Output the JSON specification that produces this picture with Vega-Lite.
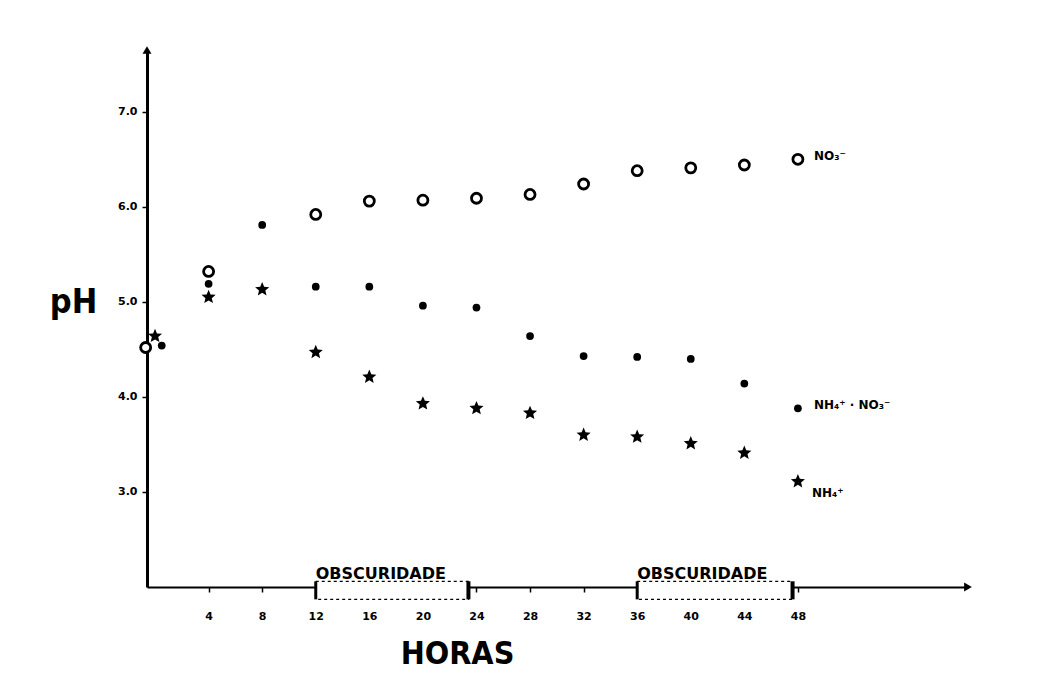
{
  "$schema": "https://vega.github.io/schema/vega-lite/v6.json",
  "width": 821,
  "height": 537,
  "autosize": {"type": "none"},
  "padding": {"left": 147, "top": 50, "right": 96, "bottom": 101},
  "background": "white",
  "config": {"view": {"stroke": null}, "font": "DejaVu Sans"},
  "datasets": {
    "ph": [
      {"hour": -0.7, "pH": 4.52, "series": "NO3"},
      {"hour": 4, "pH": 5.32, "series": "NO3"},
      {"hour": 12, "pH": 5.92, "series": "NO3"},
      {"hour": 16, "pH": 6.06, "series": "NO3"},
      {"hour": 20, "pH": 6.07, "series": "NO3"},
      {"hour": 24, "pH": 6.09, "series": "NO3"},
      {"hour": 28, "pH": 6.13, "series": "NO3"},
      {"hour": 32, "pH": 6.24, "series": "NO3"},
      {"hour": 36, "pH": 6.38, "series": "NO3"},
      {"hour": 40, "pH": 6.41, "series": "NO3"},
      {"hour": 44, "pH": 6.44, "series": "NO3"},
      {"hour": 48, "pH": 6.5, "series": "NO3", "label": "NO₃⁻"},
      {"hour": 0.5, "pH": 4.54, "series": "NH4NO3"},
      {"hour": 4, "pH": 5.19, "series": "NH4NO3"},
      {"hour": 8, "pH": 5.81, "series": "NH4NO3"},
      {"hour": 12, "pH": 5.16, "series": "NH4NO3"},
      {"hour": 16, "pH": 5.16, "series": "NH4NO3"},
      {"hour": 20, "pH": 4.96, "series": "NH4NO3"},
      {"hour": 24, "pH": 4.94, "series": "NH4NO3"},
      {"hour": 28, "pH": 4.64, "series": "NH4NO3"},
      {"hour": 32, "pH": 4.43, "series": "NH4NO3"},
      {"hour": 36, "pH": 4.42, "series": "NH4NO3"},
      {"hour": 40, "pH": 4.4, "series": "NH4NO3"},
      {"hour": 44, "pH": 4.14, "series": "NH4NO3"},
      {"hour": 48, "pH": 3.88, "series": "NH4NO3", "label": "NH₄⁺ · NO₃⁻"},
      {"hour": 0, "pH": 4.64, "series": "NH4"},
      {"hour": 4, "pH": 5.05, "series": "NH4"},
      {"hour": 8, "pH": 5.13, "series": "NH4"},
      {"hour": 12, "pH": 4.47, "series": "NH4"},
      {"hour": 16, "pH": 4.21, "series": "NH4"},
      {"hour": 20, "pH": 3.93, "series": "NH4"},
      {"hour": 24, "pH": 3.88, "series": "NH4"},
      {"hour": 28, "pH": 3.83, "series": "NH4"},
      {"hour": 32, "pH": 3.6, "series": "NH4"},
      {"hour": 36, "pH": 3.58, "series": "NH4"},
      {"hour": 40, "pH": 3.51, "series": "NH4"},
      {"hour": 44, "pH": 3.41, "series": "NH4"},
      {"hour": 48, "pH": 3.11, "series": "NH4", "label": "NH₄⁺"}
    ],
    "dark": [
      {"start": 12, "end": 23.4, "label": "OBSCURIDADE"},
      {"start": 36, "end": 47.6, "label": "OBSCURIDADE"}
    ]
  },
  "layer": [
    {
      "data": {"name": "ph"},
      "transform": [{"filter": "datum.series === 'NO3'"}],
      "mark": {"type": "point", "shape": "circle", "size": 100, "filled": false, "stroke": "black", "strokeWidth": 2.8, "fill": "white", "opacity": 1},
      "encoding": {
        "x": {
          "field": "hour",
          "type": "quantitative",
          "title": "HORAS",
          "scale": {"domain": [-0.6, 60.7], "nice": false, "zero": false},
          "axis": {
            "zindex": 0,
            "values": [4, 8, 12, 16, 20, 24, 28, 32, 36, 40, 44, 48],
            "title": "HORAS",
            "titleFont": "DejaVu Sans Condensed",
            "titleFontSize": 32,
            "titleFontWeight": "bold",
            "titleColor": "black",
            "titleX": 310,
            "titleY": 66,
            "titleAlign": "center",
            "titleBaseline": "middle",
            "labelFont": "DejaVu Sans",
            "labelFontWeight": "bold",
            "labelFontSize": 11,
            "labelColor": "black",
            "labelPadding": 18,
            "tickSize": 5,
            "tickWidth": 1.5,
            "tickColor": "black",
            "domainColor": "black",
            "domainWidth": 2,
            "grid": false
          }
        },
        "y": {
          "field": "pH",
          "type": "quantitative",
          "title": "pH",
          "scale": {"domain": [2, 7.65], "nice": false, "zero": false},
          "axis": {
            "zindex": 0,
            "values": [3, 4, 5, 6, 7],
            "format": ".1f",
            "title": "pH",
            "titleAngle": 0,
            "titleFont": "DejaVu Sans Condensed",
            "titleFontSize": 34,
            "titleFontWeight": "bold",
            "titleColor": "black",
            "titleX": -74,
            "titleY": 252,
            "titleAlign": "center",
            "titleBaseline": "middle",
            "labelFont": "DejaVu Sans",
            "labelFontWeight": "bold",
            "labelFontSize": 11,
            "labelColor": "black",
            "labelPadding": 5,
            "tickSize": 5,
            "tickWidth": 1.5,
            "tickColor": "black",
            "domainColor": "black",
            "domainWidth": 3,
            "grid": false
          }
        }
      }
    },
    {
      "data": {"name": "dark"},
      "mark": {"type": "rect", "fill": "white", "stroke": "black", "strokeWidth": 1.2, "strokeDash": [3, 3], "clip": false},
      "encoding": {
        "x": {"field": "start", "type": "quantitative", "title": "HORAS"},
        "x2": {"field": "end"},
        "y": {"datum": 2.06, "type": "quantitative", "title": "pH"},
        "y2": {"datum": 1.87}
      }
    },
    {
      "data": {"name": "dark"},
      "mark": {"type": "rule", "stroke": "black", "strokeWidth": 3, "clip": false},
      "encoding": {
        "x": {"field": "start", "type": "quantitative", "title": "HORAS"},
        "y": {"datum": 2.06, "type": "quantitative", "title": "pH"},
        "y2": {"datum": 1.87}
      }
    },
    {
      "data": {"name": "dark"},
      "mark": {"type": "rule", "stroke": "black", "strokeWidth": 4, "clip": false},
      "encoding": {
        "x": {"field": "end", "type": "quantitative", "title": "HORAS"},
        "y": {"datum": 2.06, "type": "quantitative", "title": "pH"},
        "y2": {"datum": 1.87}
      }
    },
    {
      "data": {"name": "dark"},
      "mark": {"type": "text", "align": "left", "baseline": "bottom", "font": "DejaVu Sans", "fontWeight": "bold", "fontSize": 16, "fill": "black", "clip": false},
      "encoding": {
        "x": {"field": "start", "type": "quantitative", "title": "HORAS"},
        "y": {"datum": 2.05, "type": "quantitative", "title": "pH"},
        "text": {"field": "label"}
      }
    },
    {
      "data": {"name": "ph"},
      "transform": [{"filter": "datum.series === 'NH4NO3'"}],
      "mark": {"type": "point", "shape": "circle", "size": 60, "filled": true, "fill": "black", "opacity": 1},
      "encoding": {
        "x": {"field": "hour", "type": "quantitative", "title": "HORAS"},
        "y": {"field": "pH", "type": "quantitative", "title": "pH"}
      }
    },
    {
      "data": {"name": "ph"},
      "transform": [{"filter": "datum.series === 'NH4'"}],
      "mark": {"type": "point", "shape": "M0,-1L0.265,-0.364L0.951,-0.309L0.428,0.139L0.588,0.809L0,0.45L-0.588,0.809L-0.428,0.139L-0.951,-0.309L-0.265,-0.364Z", "size": 220, "filled": true, "fill": "black", "opacity": 1},
      "encoding": {
        "x": {"field": "hour", "type": "quantitative", "title": "HORAS"},
        "y": {"field": "pH", "type": "quantitative", "title": "pH"}
      }
    },
    {
      "data": {"name": "ph"},
      "transform": [{"filter": "datum.label != null && datum.series !== 'NH4'"}],
      "mark": {"type": "text", "align": "left", "baseline": "middle", "dx": 16, "dy": -3, "font": "DejaVu Sans", "fontWeight": "bold", "fontSize": 12, "fill": "black"},
      "encoding": {
        "x": {"field": "hour", "type": "quantitative", "title": "HORAS"},
        "y": {"field": "pH", "type": "quantitative", "title": "pH"},
        "text": {"field": "label"}
      }
    },
    {
      "data": {"name": "ph"},
      "transform": [{"filter": "datum.label != null && datum.series === 'NH4'"}],
      "mark": {"type": "text", "align": "left", "baseline": "middle", "dx": 14, "dy": 11, "font": "DejaVu Sans", "fontWeight": "bold", "fontSize": 12, "fill": "black"},
      "encoding": {
        "x": {"field": "hour", "type": "quantitative", "title": "HORAS"},
        "y": {"field": "pH", "type": "quantitative", "title": "pH"},
        "text": {"field": "label"}
      }
    },
    {
      "data": {"values": [{}]},
      "mark": {"type": "point", "shape": "triangle-right", "size": 80, "filled": true, "fill": "black", "opacity": 1, "clip": false},
      "encoding": {
        "x": {"datum": 60.7, "type": "quantitative", "title": "HORAS"},
        "y": {"datum": 2, "type": "quantitative", "title": "pH"}
      }
    },
    {
      "data": {"values": [{}]},
      "mark": {"type": "point", "shape": "triangle-up", "size": 80, "filled": true, "fill": "black", "opacity": 1, "clip": false},
      "encoding": {
        "x": {"datum": -0.6, "type": "quantitative", "title": "HORAS"},
        "y": {"datum": 7.65, "type": "quantitative", "title": "pH"}
      }
    }
  ]
}
